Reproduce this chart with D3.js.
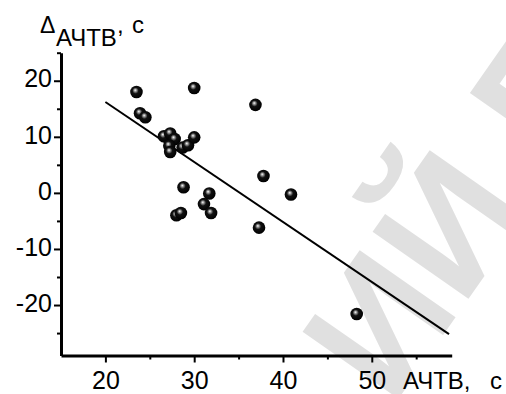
<!DOCTYPE html>
<html lang="ru">
<head>
<meta charset="UTF-8">
<title>Δ АЧТВ vs АЧТВ</title>
<script src="https://d3js.org/d3.v7.min.js"></script>
<style>
    body { margin: 0; background: #fff; font-family: "Liberation Sans", Arial, sans-serif; }
    .axis path, .axis line { stroke: #000; }
    .axis text { font-family: "Liberation Sans", Arial, sans-serif; font-size: 25px; fill: #000; }
</style>
</head>
<body>
<svg width="506" height="394"></svg>
<script>
    // АЧТВ, с  (x)  and  Δ АЧТВ, с  (y)
    const achtv = [23.5, 30.0, 23.9, 24.5, 36.9, 26.6, 27.3, 27.8, 27.2, 27.3, 28.7, 29.3, 30.0,
                   37.8, 40.9, 28.8, 31.7, 31.1, 31.9, 28.0, 28.5, 37.3, 48.3];
    const delta = [18.0, 18.7, 14.2, 13.5, 15.7, 10.1, 10.6, 9.6, 8.4, 7.3, 8.1, 8.5, 9.9,
                   3.0, -0.3, 1.0, -0.1, -2.0, -3.6, -4.0, -3.6, -6.2, -21.6];
    // regression line end points
    const fitX = [20, 58.7];
    const fitY = [16.2, -25.2];

    const xMajor = [20, 30, 40, 50];
    const xMinor = [25, 35, 45, 55];
    const yMajor = [-20, -10, 0, 10, 20];
    const yMinor = [-25, -15, -5, 5, 15, 25];

    const margin = { top: 52.7, left: 61 };
    const width = 390.7, height = 302.8;
    const font = "Liberation Sans, Arial, sans-serif";

    const svg = d3.select("svg");

    // watermark
    svg.append("text")
        .attr("transform", "translate(392,408) rotate(-55)")
        .attr("font-family", font)
        .attr("font-weight", "bold")
        .attr("font-size", 170)
        .attr("fill", "#e0e0e0")
        .text("ИЙ ГГУ");

    const g = svg.append("g").attr("transform", `translate(${margin.left},${margin.top})`);

    const x = d3.scaleLinear().domain([15, 59]).range([0, width]);
    const y = d3.scaleLinear().domain([-29, 25]).range([height, 0]);

    // minor ticks
    g.append("g").attr("class", "axis")
        .call(d3.axisLeft(y).tickValues(yMinor).tickSize(4).tickSizeOuter(0).tickFormat(""))
        .call(a => a.select(".domain").remove())
        .selectAll("line").attr("stroke-width", 2);
    g.append("g").attr("class", "axis").attr("transform", `translate(0,${height})`)
        .call(d3.axisBottom(x).tickValues(xMinor).tickSize(4).tickSizeOuter(0).tickFormat(""))
        .call(a => a.select(".domain").remove())
        .selectAll("line").attr("stroke-width", 2);

    // major axes
    const yAxis = g.append("g").attr("class", "axis")
        .call(d3.axisLeft(y).tickValues(yMajor).tickSize(7).tickSizeOuter(0).tickPadding(2)
            .tickFormat(d => String(d)));
    yAxis.select(".domain").attr("stroke-width", 3);
    yAxis.selectAll("line").attr("stroke-width", 2);
    yAxis.selectAll("text").attr("dy", "0.25em");

    const xAxis = g.append("g").attr("class", "axis").attr("transform", `translate(0,${height})`)
        .call(d3.axisBottom(x).tickValues(xMajor).tickSize(7).tickSizeOuter(0).tickPadding(9));
    xAxis.select(".domain").attr("stroke-width", 3);
    xAxis.selectAll("line").attr("stroke-width", 2);

    // fit line
    const line = d3.line().x(d => x(d[0])).y(d => y(d[1]));
    g.append("path")
        .datum(d3.zip(fitX, fitY))
        .attr("d", line)
        .attr("fill", "none")
        .attr("stroke", "#000")
        .attr("stroke-width", 2);

    // sphere markers
    const grad = svg.append("defs").append("radialGradient")
        .attr("id", "ball").attr("cx", "45%").attr("cy", "45%").attr("r", "55%")
        .attr("fx", "40%").attr("fy", "35%");
    grad.append("stop").attr("offset", "0%").attr("stop-color", "#ffffff");
    grad.append("stop").attr("offset", "18%").attr("stop-color", "#9a9a9a");
    grad.append("stop").attr("offset", "45%").attr("stop-color", "#111");
    grad.append("stop").attr("offset", "100%").attr("stop-color", "#000");

    g.selectAll("circle")
        .data(d3.zip(achtv, delta))
        .join("circle")
        .attr("cx", d => x(d[0]))
        .attr("cy", d => y(d[1]))
        .attr("r", 6.3)
        .attr("fill", "url(#ball)");

    // axis titles
    svg.append("text").attr("x", 403).attr("y", 389).attr("font-family", font)
        .attr("font-size", 24).attr("fill", "#000").text("АЧТВ,");
    svg.append("text").attr("x", 502).attr("y", 389).attr("text-anchor", "end").attr("font-family", font)
        .attr("font-size", 24).attr("fill", "#000").text("с");

    const yt = svg.append("text").attr("font-family", font).attr("fill", "#000");
    yt.append("tspan").attr("x", 40).attr("y", 33).attr("font-size", 23).text("Δ");
    yt.append("tspan").attr("x", 56).attr("y", 46).attr("font-size", 24).text("АЧТВ");
    yt.append("tspan").attr("x", 117).attr("y", 33).attr("font-size", 24).text(",");
    yt.append("tspan").attr("x", 132).attr("y", 33).attr("font-size", 24).text("с");
</script>
</body>
</html>
